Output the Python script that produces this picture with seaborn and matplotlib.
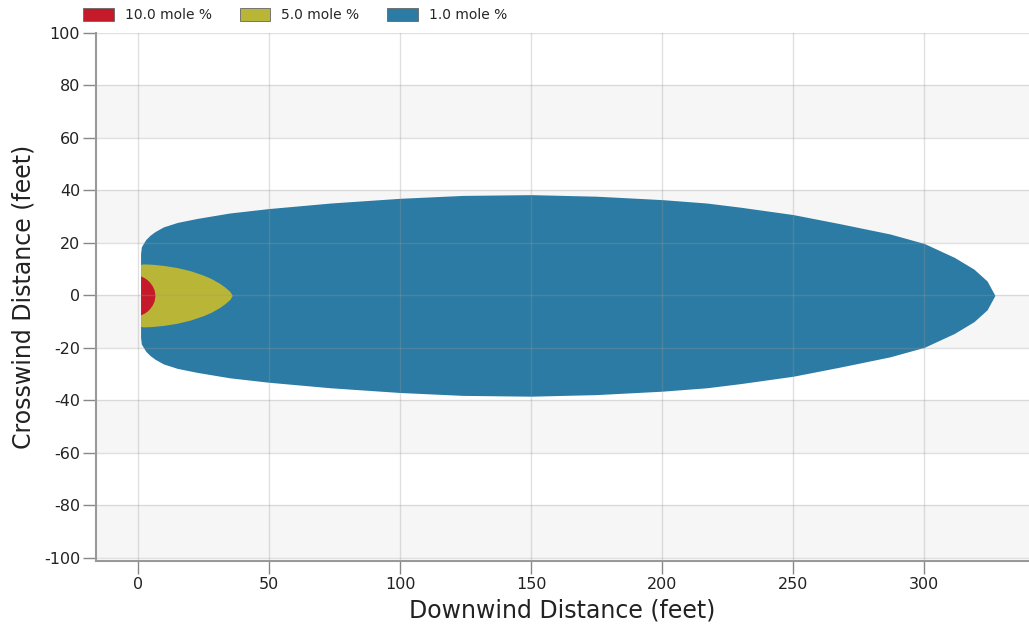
import matplotlib
matplotlib.use('Agg')
import matplotlib.pyplot as plt
from matplotlib.patches import Patch
import seaborn as sns
import numpy as np

# Plume footprints: downwind distance (ft) and crosswind half-width (ft)
red_x = [1, 1.5, 2.5, 3.5, 4.5, 5.5, 6.2, 6.5]
red_w = [7.4, 7.2, 6.7, 6.0, 5.0, 3.6, 2.0, 0.0]

yellow_x = [1, 2, 5, 10, 15, 20, 25, 28, 31, 33, 35, 36]
yellow_w = [11.8, 12.0, 11.9, 11.4, 10.6, 9.4, 7.7, 6.4, 4.7, 3.3, 1.6, 0.0]

blue_x = [1.0, 1.3, 2, 3, 4.6, 6.5, 9.7, 15, 22.4, 35, 50, 73.5, 100, 124, 150,
          175, 200, 217, 230, 250, 268, 287, 300, 311.5, 319, 324, 327]
blue_w = [16.0, 18.5, 19.7, 21.3, 22.9, 24.3, 26.1, 27.8, 29.3, 31.4, 33.1, 35.2,
          37.0, 38.1, 38.4, 37.8, 36.5, 35.2, 33.6, 30.8, 27.3, 23.4, 19.8, 14.5,
          10.0, 5.5, 0.0]

labels = ['10.0 mole %', '5.0 mole %', '1.0 mole %']
colors = ['#c51a29', '#b9b537', '#2b7ba4']

x_ticks = [0, 50, 100, 150, 200, 250, 300]
y_ticks = list(range(-100, 101, 20))

sns.set_style('white')
plt.rcParams['font.family'] = ['DejaVu Sans']
plt.rcParams['axes.unicode_minus'] = False

fig = plt.figure(figsize=(10.29, 6.28), dpi=100)
ax = fig.add_axes([0.0933, 0.1067, 0.9067, 0.8408])

# alternating background bands
for i, y0 in enumerate(y_ticks[:-1]):
    if i % 2 == 0:
        ax.axhspan(y0, y0 + 20, color='#f6f6f6', zorder=0, lw=0)

for xs, ws, c in [(blue_x, blue_w, colors[2]), (yellow_x, yellow_w, colors[1]),
                  (red_x, red_w, colors[0])]:
    xs = np.array(xs)
    ws = np.array(ws)
    ax.fill_between(xs, -ws, ws, color=c, lw=0, zorder=2)

for xt in x_ticks:
    ax.axvline(xt, color='#999999', alpha=0.3, lw=1, zorder=3)
for yt in y_ticks:
    ax.axhline(yt, color='#999999', alpha=0.3, lw=1, zorder=3)

ax.set_xlim(-16, 340)
ax.set_ylim(-101.2, 100)
ax.set_xticks(x_ticks)
ax.set_yticks(y_ticks)
ax.tick_params(axis='both', which='major', direction='out', length=9.5, width=1,
               color='#888888', labelsize=11.5, labelcolor='#222222', pad=2,
               bottom=True, left=True)
ax.set_xlabel('Downwind Distance (feet)', fontsize=17, color='#222222', labelpad=5)
ax.set_ylabel('Crosswind Distance (feet)', fontsize=17, color='#222222', labelpad=6)

sns.despine(ax=ax, top=True, right=True)
for s in ['left', 'bottom']:
    ax.spines[s].set_color('#999999')
    ax.spines[s].set_linewidth(1.5)

handles = [Patch(facecolor=c, edgecolor='#666666', lw=0.6) for c in colors]
fig.legend(handles, labels, loc='center left', bbox_to_anchor=(0.081, 0.976),
           ncol=3, frameon=False, fontsize=10, handlelength=2.2, handleheight=1.0,
           handletextpad=0.8, columnspacing=2.0, borderaxespad=0, borderpad=0)

fig.savefig('out.png', dpi=100)
